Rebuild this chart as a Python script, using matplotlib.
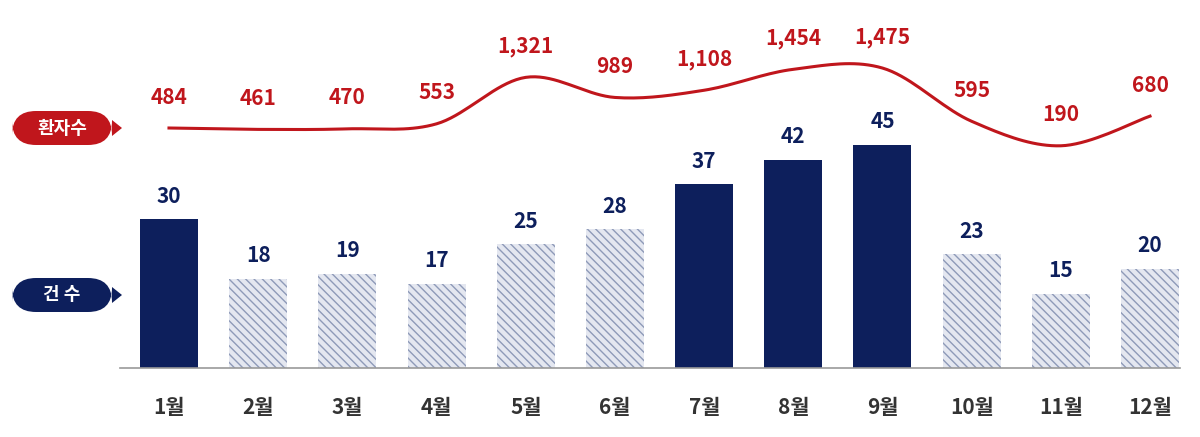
import numpy as np
import matplotlib
matplotlib.use("Agg")
import matplotlib.pyplot as plt
from matplotlib.patches import FancyBboxPatch, Polygon

plt.rcParams['font.family'] = ['Noto Sans CJK KR', 'DejaVu Sans']

months = ['1월','2월','3월','4월','5월','6월','7월','8월','9월','10월','11월','12월']
cases = [30, 18, 19, 17, 25, 28, 37, 42, 45, 23, 15, 20]
patients = [484, 461, 470, 553, 1321, 989, 1108, 1454, 1475, 595, 190, 680]
solid = [True, False, False, False, False, False, True, True, True, False, False, False]

W, H = 1200, 437
fig = plt.figure(figsize=(W/100, H/100), dpi=100)
x = np.arange(len(months))
left_px, right_px = 169 - 0.7*89.2, 1150 + 0.5*89.2
ax = fig.add_axes([left_px/W, 69/H, (right_px-left_px)/W, 368/H])
ax.set_xlim(-0.7, 11.5)
ax.set_ylim(0, 368/4.96)
navy = '#0d1f5c'
for i, (c, s) in enumerate(zip(cases, solid)):
    if s:
        ax.bar(i, c, width=0.65, color=navy)
    else:
        ax.bar(i, c, width=0.65, facecolor='#e4e7f0', edgecolor='#8e9ab8', hatch='\\\\\\\\', linewidth=0)
    ax.text(i, c + 2.5, str(c), ha='center', va='bottom', fontsize=15, fontweight='bold', color=navy)
ax.axis('off')

ax2 = ax.twinx()
ax2.set_ylim(484 - 240/0.0605, 484 + 128/0.0605)
ax2.axis('off')
P = np.column_stack([x, patients]).astype(float)
pts = np.vstack([P[0], P, P[-1]])
xs, ys = [], []
for k in range(1, len(pts)-2):
    p0, p1, p2, p3 = pts[k-1], pts[k], pts[k+1], pts[k+2]
    for t in np.linspace(0, 1, 20):
        v = 0.5*((2*p1) + (-p0+p2)*t + (2*p0-5*p1+4*p2-p3)*t**2 + (-p0+3*p1-3*p2+p3)*t**3)
        xs.append(v[0]); ys.append(v[1])
red = '#c0161c'
ax2.plot(xs, ys, color=red, lw=2.2)
for i, p in enumerate(patients):
    ax2.text(i, p + 31/0.0605, f'{p:,}', ha='center', va='center', fontsize=15, fontweight='bold', color=red)

fig.add_artist(plt.Line2D([120/W, 1180/W], [69/H, 69/H], color='#999999', lw=1.2))
for i, m in enumerate(months):
    fig.text((169 + i*89.2)/W, (H-408)/H, m, ha='center', va='center', fontsize=15, fontweight='bold', color='#333333')

def tag(ycen, text, col):
    x0, x1, h = 12, 112, 34
    fig.add_artist(FancyBboxPatch((x0/W, (H-ycen-h/2)/H), (x1-x0)/W, h/H,
                                  boxstyle='round,pad=0,rounding_size=0.02', transform=fig.transFigure,
                                  fc=col, ec='none', mutation_aspect=W/H))
    fig.add_artist(Polygon([[x1/W, (H-ycen+8)/H], [(x1+10)/W, (H-ycen)/H], [x1/W, (H-ycen-8)/H]],
                           closed=True, transform=fig.transFigure, fc=col, ec='none'))
    fig.text((x0+x1)/2/W, (H-ycen)/H, text, ha='center', va='center', fontsize=13, fontweight='bold', color='white')

tag(128, '환자수', red)
tag(295, '건 수', navy)

fig.savefig('out.png', dpi=100)
